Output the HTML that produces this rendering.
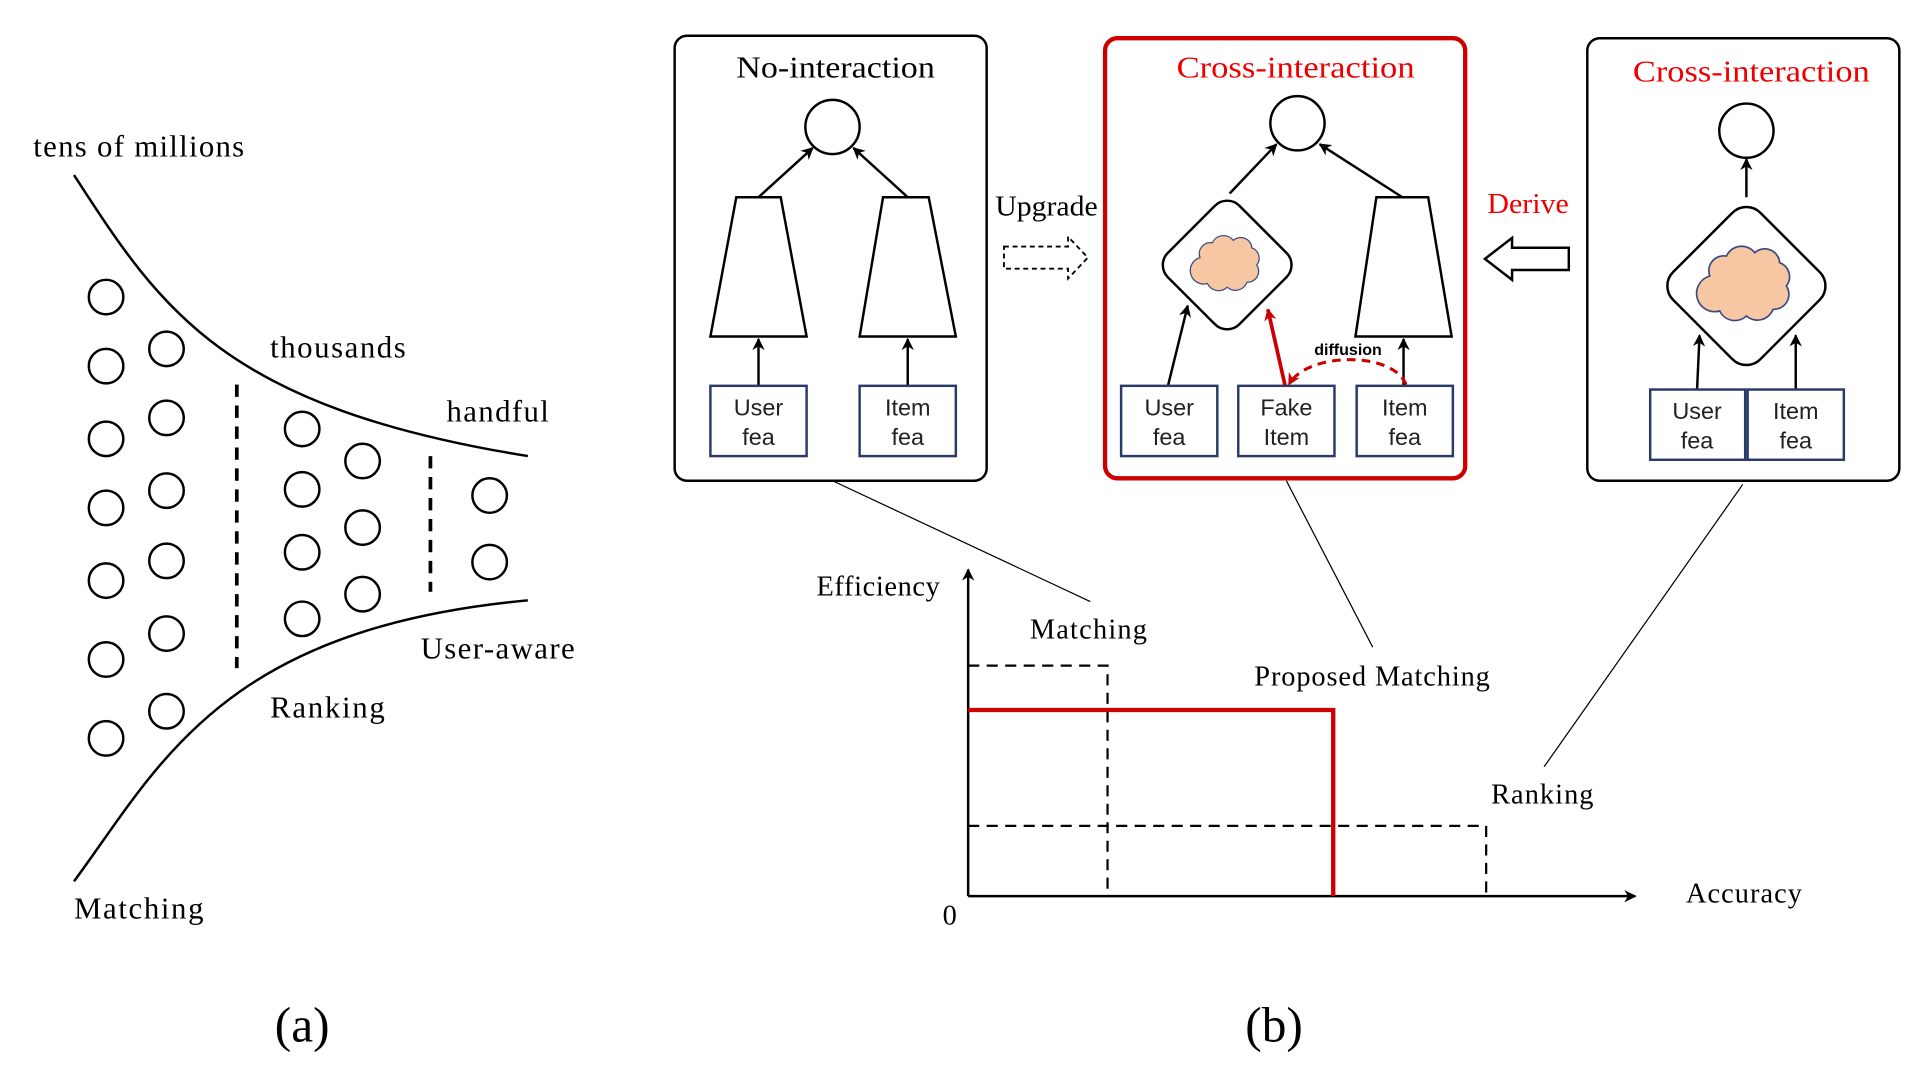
<!DOCTYPE html>
<html><head><meta charset="utf-8"><style>html,body{margin:0;padding:0;background:#fff}svg{display:block}</style></head>
<body>
<svg width="1924" height="1086" viewBox="0 0 1560 881" preserveAspectRatio="none" xmlns="http://www.w3.org/2000/svg">
<defs>
<marker id="ah" markerWidth="10" markerHeight="10" refX="9" refY="5" orient="auto" markerUnits="userSpaceOnUse"><path d="M0,0 L10,5 L0,10 L3,5 Z" fill="#000"/></marker>
<marker id="ahr" markerWidth="10" markerHeight="10" refX="9" refY="5" orient="auto" markerUnits="userSpaceOnUse"><path d="M0,0 L10,5 L0,10 L3,5 Z" fill="#c00"/></marker>
<g id="cloud"><path d="M-22,-6 a9,9 0 0 1 10,-12 a10,10 0 0 1 17,-2 a9,9 0 0 1 15,6 a9,9 0 0 1 4,14 a9,9 0 0 1 -8,14 a10,10 0 0 1 -16,4 a10,10 0 0 1 -16,-3 a9,9 0 0 1 -6,-21 z" fill="#f7c7a3" stroke="#3a4a80" stroke-width="1"/></g>
</defs>
<g font-family="Liberation Serif, serif" fill="#000">
<path d="M60,142 C130,250 180,330 428,370" fill="none" stroke="#000" stroke-width="2"/>
<path d="M60,715 C130,620 180,510 428,487" fill="none" stroke="#000" stroke-width="2"/>
<g fill="none" stroke="#000" stroke-width="2">
<circle cx="86" cy="241" r="14"/><circle cx="86" cy="297" r="14"/><circle cx="86" cy="356" r="14"/><circle cx="86" cy="412" r="14"/><circle cx="86" cy="471" r="14"/><circle cx="86" cy="535" r="14"/><circle cx="86" cy="599" r="14"/>
<circle cx="135" cy="283" r="14"/><circle cx="135" cy="339" r="14"/><circle cx="135" cy="398" r="14"/><circle cx="135" cy="455" r="14"/><circle cx="135" cy="514" r="14"/><circle cx="135" cy="577" r="14"/>
<circle cx="245" cy="348" r="14"/><circle cx="245" cy="397" r="14"/><circle cx="245" cy="448" r="14"/><circle cx="245" cy="502" r="14"/>
<circle cx="294" cy="374" r="14"/><circle cx="294" cy="428" r="14"/><circle cx="294" cy="482" r="14"/>
<circle cx="397" cy="402" r="14"/><circle cx="397" cy="456" r="14"/>
<line x1="192" y1="312" x2="192" y2="542" stroke-width="3" stroke-dasharray="10,7"/>
<line x1="349" y1="370" x2="349" y2="480" stroke-width="3" stroke-dasharray="10,7"/>
</g>
<g font-size="25" lengthAdjust="spacingAndGlyphs">
<text x="27" y="127" textLength="171">tens of millions</text>
<text x="219" y="290" textLength="110">thousands</text>
<text x="362" y="342" textLength="83">handful</text>
<text x="341" y="534" textLength="125">User-aware</text>
<text x="219" y="582" textLength="93">Ranking</text>
<text x="60" y="745" textLength="105">Matching</text>
</g>
<text x="245" y="845" font-size="40" text-anchor="middle">(a)</text>
<text x="1033" y="845" font-size="40" text-anchor="middle">(b)</text>

<rect x="547" y="29" width="253" height="361" rx="10" fill="none" stroke="#000" stroke-width="2"/>
<text x="597" y="63" font-size="25" textLength="161" lengthAdjust="spacingAndGlyphs">No-interaction</text>
<circle cx="675" cy="103" r="22" fill="none" stroke="#000" stroke-width="2"/>
<path d="M597,160 L633,160 L654,273 L576,273 Z" fill="none" stroke="#000" stroke-width="2"/>
<path d="M716,160 L753,160 L775,273 L697,273 Z" fill="none" stroke="#000" stroke-width="2"/>
<g stroke="#000" stroke-width="2" marker-end="url(#ah)">
<line x1="615" y1="160" x2="659" y2="120"/><line x1="736" y1="160" x2="692" y2="120"/>
<line x1="615" y1="313" x2="615" y2="275"/><line x1="736" y1="313" x2="736" y2="275"/>
</g>
<g fill="none" stroke="#2b3a67" stroke-width="2">
<rect x="576" y="313" width="78" height="57"/><rect x="697" y="313" width="78" height="57"/>
</g>
<g font-family="Liberation Sans, sans-serif" font-size="19" text-anchor="middle" fill="#222">
<text x="615" y="337">User</text><text x="615" y="361">fea</text>
<text x="736" y="337">Item</text><text x="736" y="361">fea</text>
</g>
<text x="807" y="175" font-size="23" textLength="83" lengthAdjust="spacingAndGlyphs">Upgrade</text>
<path d="M814,200 L866,200 L866,192 L882,209 L866,226 L866,218 L814,218 Z" fill="none" stroke="#000" stroke-width="1.5" stroke-dasharray="4,3"/>

<rect x="896" y="31" width="292" height="357" rx="10" fill="none" stroke="#c00" stroke-width="3.5"/>
<text x="954" y="63" font-size="25" fill="#e00" textLength="193" lengthAdjust="spacingAndGlyphs">Cross-interaction</text>
<circle cx="1052" cy="100" r="22" fill="none" stroke="#000" stroke-width="2"/>
<rect x="954" y="174" width="82" height="82" rx="14" transform="rotate(45 995 215)" fill="none" stroke="#000" stroke-width="2"/>
<use href="#cloud" transform="translate(995,215)"/>
<path d="M1116,160 L1158,160 L1177,273 L1099,273 Z" fill="none" stroke="#000" stroke-width="2"/>
<g stroke="#000" stroke-width="2" marker-end="url(#ah)">
<line x1="997" y1="157" x2="1035" y2="117"/><line x1="1137" y1="160" x2="1070" y2="117"/>
<line x1="947" y1="313" x2="963" y2="248"/><line x1="1138" y1="313" x2="1138" y2="275"/>
</g>
<line x1="1042" y1="313" x2="1028" y2="251" stroke="#c00" stroke-width="3" marker-end="url(#ahr)"/>
<path d="M1140,312 C1130,285 1060,285 1045,312" fill="none" stroke="#c00" stroke-width="2.5" stroke-dasharray="7,5" marker-end="url(#ahr)"/>
<text x="1093" y="288" font-family="Liberation Sans, sans-serif" font-size="13" font-weight="bold" text-anchor="middle">diffusion</text>
<g fill="none" stroke="#2b3a67" stroke-width="2">
<rect x="909" y="313" width="78" height="57"/><rect x="1004" y="313" width="78" height="57"/><rect x="1100" y="313" width="78" height="57"/>
</g>
<g font-family="Liberation Sans, sans-serif" font-size="19" text-anchor="middle" fill="#222">
<text x="948" y="337">User</text><text x="948" y="361">fea</text>
<text x="1043" y="337">Fake</text><text x="1043" y="361">Item</text>
<text x="1139" y="337">Item</text><text x="1139" y="361">fea</text>
</g>
<text x="1206" y="173" font-size="23" fill="#e00" textLength="66" lengthAdjust="spacingAndGlyphs">Derive</text>
<path d="M1272,201 L1226,201 L1226,193 L1204,210 L1226,227 L1226,219 L1272,219 Z" fill="none" stroke="#000" stroke-width="2"/>

<rect x="1287" y="31" width="253" height="359" rx="10" fill="none" stroke="#000" stroke-width="2"/>
<text x="1324" y="66" font-size="25" fill="#e00" textLength="192" lengthAdjust="spacingAndGlyphs">Cross-interaction</text>
<circle cx="1416" cy="106" r="22" fill="none" stroke="#000" stroke-width="2"/>
<rect x="1366" y="182" width="100" height="100" rx="16" transform="rotate(45 1416 232)" fill="none" stroke="#000" stroke-width="2"/>
<use href="#cloud" transform="translate(1416,232) scale(1.35)"/>
<g stroke="#000" stroke-width="2" marker-end="url(#ah)">
<line x1="1416" y1="160" x2="1416" y2="129"/>
<line x1="1376" y1="316" x2="1378" y2="272"/><line x1="1456" y1="316" x2="1456" y2="272"/>
</g>
<g fill="none" stroke="#2b3a67" stroke-width="2">
<rect x="1338" y="316" width="77" height="57"/><rect x="1417" y="316" width="78" height="57"/>
</g>
<g font-family="Liberation Sans, sans-serif" font-size="19" text-anchor="middle" fill="#222">
<text x="1376" y="340">User</text><text x="1376" y="364">fea</text>
<text x="1456" y="340">Item</text><text x="1456" y="364">fea</text>
</g>

<g stroke="#000" stroke-width="1">
<line x1="675" y1="390" x2="884" y2="488"/>
<line x1="1043" y1="390" x2="1113" y2="525"/>
<line x1="1413" y1="393" x2="1252" y2="622"/>
</g>

<line x1="785" y1="727" x2="785" y2="462" stroke="#000" stroke-width="2" marker-end="url(#ah)"/>
<line x1="785" y1="727" x2="1326" y2="727" stroke="#000" stroke-width="2" marker-end="url(#ah)"/>
<path d="M785,540 L898,540 L898,727" fill="none" stroke="#000" stroke-width="1.8" stroke-dasharray="9,6"/>
<path d="M785,670 L1205,670 L1205,727" fill="none" stroke="#000" stroke-width="1.8" stroke-dasharray="9,6"/>
<path d="M785,576 L1081,576 L1081,727" fill="none" stroke="#c00" stroke-width="3.5"/>
<g font-size="23" lengthAdjust="spacingAndGlyphs">
<text x="662" y="483" textLength="100">Efficiency</text>
<text x="770" y="750" text-anchor="middle">0</text>
<text x="1367" y="732" textLength="94">Accuracy</text>
<text x="835" y="518" textLength="95">Matching</text>
<text x="1017" y="556" textLength="191">Proposed Matching</text>
<text x="1209" y="652" textLength="83">Ranking</text>
</g>
</g>
</svg>
</body></html>
